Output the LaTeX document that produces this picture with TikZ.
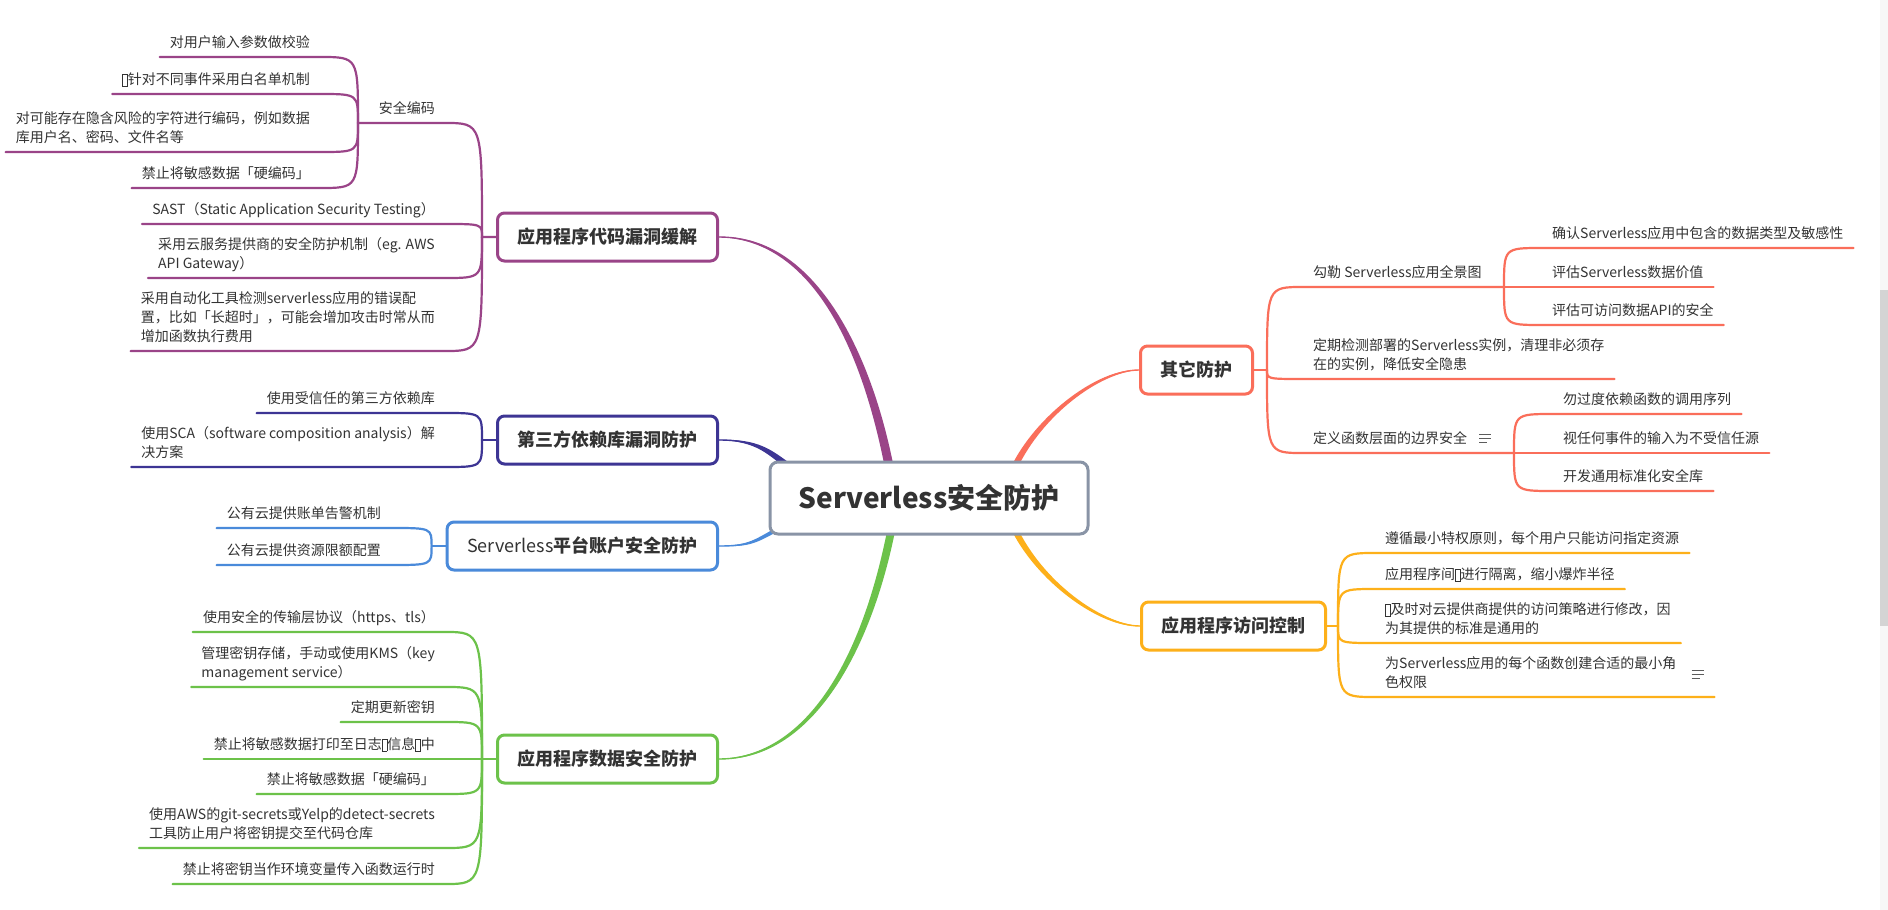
\documentclass[tikz,border=0pt]{standalone}
\usepackage{fontspec}
\setmainfont{Noto Sans CJK SC}
\usetikzlibrary{calc}

\definecolor{rootc}{HTML}{8994A6}
\definecolor{codec}{HTML}{9A4488}
\definecolor{depc}{HTML}{3D3594}
\definecolor{acctc}{HTML}{4A8ADA}
\definecolor{datac}{HTML}{6CC24A}
\definecolor{otherc}{HTML}{FA6E5A}
\definecolor{accessc}{HTML}{FDB01A}
\definecolor{txt}{HTML}{333333}

\newcommand\tofu{\raisebox{-0.08em}{\fboxsep=0pt\fboxrule=0.5pt\fbox{\rule{0pt}{0.85em}\hspace{0.32em}}}}
\newcommand\taper[7]{%
  \fill[#1] (#2) .. controls ($(#2)+(#3)+(#6)$) and ($(#5)+(#4)+(#7)$) .. ($(#5)+(#7)$)
    -- ($(#5)-(#7)$) .. controls ($(#5)+(#4)-(#7)$) and ($(#2)+(#3)-(#6)$) .. (#2) -- cycle;
  \draw[#1,line width=1.4pt] (#2) .. controls ($(#2)+(#3)$) and ($(#5)+(#4)$) .. (#5);}

\pgfdeclarelayer{bg}
\pgfsetlayers{bg,main}

\tikzset{
  root/.style={draw=rootc, line width=3pt, rounded corners=8pt, fill=white, text=txt,
    minimum width=318pt, minimum height=72pt, font=\fontsize{28}{34}\selectfont\bfseries},
  topic/.style={draw=#1, line width=3pt, rounded corners=7pt, fill=white, text=txt,
    minimum height=48pt, inner xsep=20pt, font=\fontsize{18}{22}\selectfont\bfseries},
  leaf/.style={inner xsep=10pt, inner ysep=9pt, text depth=0pt, align=left, text=txt,
    font=\fontsize{14}{19}\selectfont},
  lleaf/.style={leaf, anchor=south east},
  rleaf/.style={leaf, anchor=south west},
  link/.style={line width=2.2pt, line cap=round},
  noteline/.style={draw=txt!80, line width=1pt}
}

\begin{document}
\begin{tikzpicture}[x=1pt,y=-1pt]
\useasboundingbox (0,0) rectangle (1888,910);

\node[root] (root) at (929,498) {Serverless安全防护};

\node[topic=codec, anchor=east] (code) at (719,237) {应用程序代码漏洞缓解};
\node[topic=depc, anchor=east] (dep) at (719,440) {第三方依赖库漏洞防护};
\node[topic=acctc, anchor=east] (acct) at (719,546) {{\mdseries Serverless}平台账户安全防护};
\node[topic=datac, anchor=east] (data) at (719,759) {应用程序数据安全防护};
\node[topic=otherc, anchor=west] (other) at (1139,370) {其它防护};
\node[topic=accessc, anchor=west] (access) at (1140,626) {应用程序访问控制};

\coordinate (codehub) at ($(code.west)+(-14,0)$);
\coordinate (dephub) at ($(dep.west)+(-14,0)$);
\coordinate (accthub) at ($(acct.west)+(-14,0)$);
\coordinate (datahub) at ($(data.west)+(-14,0)$);
\coordinate (otherhub) at ($(other.east)+(13,0)$);
\coordinate (accesshub) at ($(access.east)+(11,0)$);
\coordinate (enchub) at (358,123);
\coordinate (o1hub) at (1504,287);
\coordinate (o3hub) at (1514,453);

\coordinate (rcode) at ($(root.north west)!0.377!(root.north east)+(0,8)$);
\coordinate (rdep) at ($(root.north west)!0.072!(root.north east)+(0,8)$);
\coordinate (racct) at ($(root.south west)!0.038!(root.south east)+(0,-8)$);
\coordinate (rdata) at ($(root.south west)!0.384!(root.south east)+(0,-8)$);
\coordinate (rother) at ($(root.north west)!0.764!(root.north east)+(0,8)$);
\coordinate (raccess) at ($(root.south west)!0.764!(root.south east)+(0,-8)$);

% 应用程序代码漏洞缓解
\node[lleaf] (enc) at (445,123) {安全编码};
\node[lleaf] (s1) at (320,57) {对用户输入参数做校验};
\node[lleaf] (s2) at (320,94) {\tofu 针对不同事件采用白名单机制};
\node[lleaf] (s3) at (320,152) {对可能存在隐含风险的字符进行编码，例如数据\\库用户名、密码、文件名等};
\node[lleaf] (s4) at (320,188) {禁止将敏感数据「硬编码」};
\node[lleaf] (c2) at (445,224) {SAST（Static Application Security Testing）};
\node[lleaf] (c3) at (445,278) {采用云服务提供商的安全防护机制（eg. AWS\\API Gateway）};
\node[lleaf] (c4) at (445,351) {采用自动化工具检测serverless应用的错误配\\置，比如「长超时」，可能会增加攻击时常从而\\增加函数执行费用};

% 第三方依赖库漏洞防护
\node[lleaf] (d1) at (445,413) {使用受信任的第三方依赖库};
\node[lleaf] (d2) at (445,467) {使用SCA（software composition analysis）解\\决方案};

% Serverless平台账户安全防护
\node[lleaf] (a1) at (391,528) {公有云提供账单告警机制};
\node[lleaf] (a2) at (391,565) {公有云提供资源限额配置};

% 应用程序数据安全防护
\node[lleaf] (t1) at (445,632) {使用安全的传输层协议（https、tls）};
\node[lleaf] (t2) at (445,687) {管理密钥存储，手动或使用KMS（key\\management service）};
\node[lleaf] (t3) at (445,722) {定期更新密钥};
\node[lleaf] (t4) at (445,759) {禁止将敏感数据打印至日志\tofu 信息\tofu 中};
\node[lleaf] (t5) at (445,794) {禁止将敏感数据「硬编码」};
\node[lleaf] (t6) at (445,848) {使用AWS的git-secrets或Yelp的detect-secrets\\工具防止用户将密钥提交至代码仓库};
\node[lleaf] (t7) at (445,884) {禁止将密钥当作环境变量传入函数运行时};

% 其它防护
\node[rleaf] (o1) at (1303,287) {勾勒 Serverless应用全景图};
\node[rleaf] (o2) at (1303,379) {定期检测部署的Serverless实例，清理非必须存\\在的实例，降低安全隐患};
\node[rleaf] (o3) at (1303,453) {定义函数层面的边界安全\rule{26pt}{0pt}};
\node[rleaf] (p1) at (1542,248) {确认Serverless应用中包含的数据类型及敏感性};
\node[rleaf] (p2) at (1542,287) {评估Serverless数据价值};
\node[rleaf] (p3) at (1542,325) {评估可访问数据API的安全};
\node[rleaf] (q1) at (1553,414) {勿过度依赖函数的调用序列};
\node[rleaf] (q2) at (1553,453) {视任何事件的输入为不受信任源};
\node[rleaf] (q3) at (1553,491) {开发通用标准化安全库};

% 应用程序访问控制
\node[rleaf] (r1) at (1375,553) {遵循最小特权原则，每个用户只能访问指定资源};
\node[rleaf] (r2) at (1375,589) {应用程序间\tofu 进行隔离，缩小爆炸半径};
\node[rleaf] (r3) at (1375,643) {\tofu 及时对云提供商提供的访问策略进行修改，因\\为其提供的标准是通用的};
\node[rleaf] (r4) at (1375,697) {为Serverless应用的每个函数创建合适的最小角\rule{28pt}{0pt}\\色权限};

\foreach \dy/\w in {-19/12,-15/12,-11/8}
  \draw[noteline] ($(o3.south east)+(-24,\dy)$) -- +(\w,0);
\foreach \dy/\w in {-27/12,-23/12,-19/8}
  \draw[noteline] ($(r4.south east)+(-23,\dy)$) -- +(\w,0);

\fill[black!3] (1880,0) rectangle (1888,910);
\fill[black!17] (1880,290) rectangle (1888,626);

\begin{pgfonlayer}{bg}
\fill[white] (0,0) rectangle (1888,910);

\taper{codec}{code.east}{90,0}{-25,-128}{rcode}{0,-3}{4.5,0}
\taper{depc}{dep.east}{40,0}{-22,-16}{rdep}{0,-1.5}{1.8,-2.6}
\taper{acctc}{acct.east}{32,0}{-26,14}{racct}{0,1.2}{1.2,1.6}
\taper{datac}{data.east}{90,0}{-25,128}{rdata}{0,3}{4,0}
\taper{otherc}{other.west}{-40,0}{25,-53}{rother}{0,2.5}{3.5,0}
\taper{accessc}{access.west}{-40,0}{25,53}{raccess}{0,-2.5}{3.5,0}

\foreach \n in {s1,s2,s3,s4}
  \draw[link,codec] (\n.south west) -- (\n.south east) .. controls (enchub |- \n.south east) .. (enchub);
\draw[link,codec] (enchub) -- (enc.south west) -- (enc.south east) .. controls (codehub |- enc.south east) .. (codehub) -- (code.west);
\foreach \n in {c2,c3,c4}
  \draw[link,codec] (\n.south west) -- (\n.south east) .. controls (codehub |- \n.south east) .. (codehub);

\foreach \n in {d1,d2}
  \draw[link,depc] (\n.south west) -- (\n.south east) .. controls (dephub |- \n.south east) .. (dephub);
\draw[link,depc] (dephub) -- (dep.west);

\foreach \n in {a1,a2}
  \draw[link,acctc] (\n.south west) -- (\n.south east) .. controls (accthub |- \n.south east) .. (accthub);
\draw[link,acctc] (accthub) -- (acct.west);

\foreach \n in {t1,t2,t3,t4,t5,t6,t7}
  \draw[link,datac] (\n.south west) -- (\n.south east) .. controls (datahub |- \n.south east) .. (datahub);
\draw[link,datac] (datahub) -- (data.west);

\draw[link,otherc] (o1hub) -- (o1.south west) .. controls (otherhub |- o1.south west) .. (otherhub);
\draw[link,otherc] (o2.south east) -- (o2.south west) .. controls (otherhub |- o2.south west) .. (otherhub);
\draw[link,otherc] (o3hub) -- (o3.south west) .. controls (otherhub |- o3.south west) .. (otherhub);
\draw[link,otherc] (otherhub) -- (other.east);
\foreach \n in {p1,p2,p3}
  \draw[link,otherc] (\n.south east) -- (\n.south west) .. controls (o1hub |- \n.south west) .. (o1hub);
\foreach \n in {q1,q2,q3}
  \draw[link,otherc] (\n.south east) -- (\n.south west) .. controls (o3hub |- \n.south west) .. (o3hub);

\foreach \n in {r1,r2,r3,r4}
  \draw[link,accessc] (\n.south east) -- (\n.south west) .. controls (accesshub |- \n.south west) .. (accesshub);
\draw[link,accessc] (accesshub) -- (access.east);
\end{pgfonlayer}
\end{tikzpicture}
\end{document}
